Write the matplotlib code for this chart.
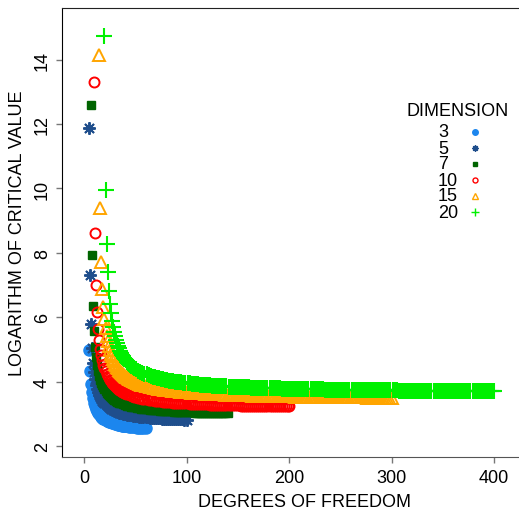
import matplotlib
matplotlib.use("Agg")
import matplotlib.pyplot as plt

plt.rcParams["font.family"] = ["Liberation Sans", "DejaVu Sans"]

# degrees of freedom and log critical values per dimension
df3 = list(range(5, 43)) + list(range(44, 61, 2))
crit3 = [4.99, 4.32, 3.92, 3.67, 3.48, 3.35, 3.24, 3.16, 3.09, 3.04,
         2.99, 2.95, 2.91, 2.88, 2.85, 2.83, 2.81, 2.79, 2.77, 2.76,
         2.74, 2.73, 2.72, 2.71, 2.70, 2.69, 2.68, 2.67, 2.66, 2.65,
         2.645, 2.64, 2.63, 2.63, 2.62, 2.62, 2.61, 2.61,
         2.60, 2.59, 2.585, 2.58, 2.57, 2.57, 2.56, 2.56, 2.55]

df5 = list(range(5, 35)) + list(range(36, 101, 2))
crit5 = [11.88, 7.31, 5.80, 5.04, 4.59, 4.29, 4.07, 3.91, 3.78, 3.68,
         3.59, 3.52, 3.46, 3.41, 3.36, 3.32, 3.29, 3.26, 3.23, 3.20,
         3.18, 3.16, 3.14, 3.12, 3.11, 3.09, 3.08, 3.07, 3.05, 3.04,
         3.02, 3.00, 2.985, 2.97, 2.96, 2.95, 2.94, 2.93, 2.92, 2.91,
         2.91, 2.90, 2.89, 2.89, 2.88, 2.88, 2.87, 2.87, 2.86, 2.86,
         2.85, 2.85, 2.85, 2.84, 2.84, 2.84, 2.835, 2.83, 2.83, 2.83,
         2.825, 2.82, 2.82]

df7 = list(range(7, 37)) + list(range(38, 141, 2))
crit7 = [12.58, 7.93, 6.36, 5.57, 5.08, 4.75, 4.51, 4.33, 4.18, 4.06,
         3.97, 3.89, 3.82, 3.76, 3.70, 3.66, 3.62, 3.58, 3.55, 3.52,
         3.49, 3.47, 3.44, 3.42, 3.40, 3.38, 3.37, 3.35, 3.34, 3.32,
         3.30, 3.275, 3.256, 3.24, 3.224, 3.21, 3.196, 3.185, 3.175, 3.163,
         3.154, 3.145, 3.137, 3.13, 3.123, 3.116, 3.111, 3.105, 3.10, 3.095,
         3.09, 3.086, 3.082, 3.077, 3.073, 3.07, 3.066, 3.062, 3.06, 3.056,
         3.054, 3.051, 3.049, 3.045, 3.042, 3.039, 3.037, 3.035, 3.033, 3.03,
         3.029, 3.027, 3.025, 3.023, 3.021, 3.02, 3.018, 3.016, 3.015, 3.013,
         3.012, 3.011]

df10 = list(range(10, 40)) + list(range(41, 200, 2)) + [200]
crit10 = [13.31, 8.61, 6.99, 6.16, 5.64, 5.28, 5.02, 4.82, 4.66, 4.52,
          4.41, 4.32, 4.24, 4.17, 4.11, 4.05, 4.01, 3.96, 3.92, 3.89,
          3.86, 3.83, 3.80, 3.775, 3.75, 3.73, 3.71, 3.69, 3.67, 3.66,
          3.626, 3.60, 3.576, 3.555, 3.535, 3.518, 3.50, 3.486, 3.4725, 3.46,
          3.448, 3.437, 3.427, 3.418, 3.409, 3.40, 3.393, 3.386, 3.379, 3.373,
          3.367, 3.361, 3.356, 3.35, 3.3455, 3.341, 3.336, 3.332, 3.328, 3.324,
          3.32, 3.3165, 3.313, 3.31, 3.306, 3.303, 3.30, 3.297, 3.294, 3.292,
          3.289, 3.287, 3.284, 3.282, 3.279, 3.277, 3.275, 3.273, 3.271, 3.269,
          3.267, 3.2655, 3.264, 3.262, 3.2605, 3.259, 3.257, 3.256, 3.254, 3.253,
          3.2515, 3.25, 3.249, 3.248, 3.246, 3.245, 3.244, 3.243, 3.2415, 3.24,
          3.239, 3.238, 3.237, 3.236, 3.235, 3.234, 3.233, 3.232, 3.231, 3.23,
          3.23]

df15 = list(range(15, 45)) + list(range(46, 301, 2))
crit15 = [14.14, 9.39, 7.73, 6.87, 6.32, 5.94, 5.65, 5.43, 5.25, 5.10,
          4.98, 4.87, 4.78, 4.70, 4.63, 4.56, 4.51, 4.46, 4.41, 4.37,
          4.33, 4.29, 4.26, 4.23, 4.20, 4.17, 4.15, 4.13, 4.11, 4.08,
          4.047, 4.014, 3.984, 3.957, 3.933, 3.910, 3.889, 3.871, 3.853, 3.837,
          3.822, 3.808, 3.795, 3.783, 3.772, 3.762, 3.751, 3.742, 3.733, 3.725,
          3.717, 3.709, 3.702, 3.695, 3.689, 3.682, 3.676, 3.671, 3.665, 3.660,
          3.655, 3.650, 3.646, 3.641, 3.637, 3.633, 3.629, 3.625, 3.622, 3.618,
          3.615, 3.611, 3.608, 3.605, 3.602, 3.600, 3.597, 3.594, 3.592, 3.589,
          3.587, 3.584, 3.582, 3.580, 3.578,
          3.576, 3.574, 3.572, 3.570, 3.568, 3.566, 3.564, 3.562, 3.561, 3.559,
          3.557, 3.556, 3.554, 3.553, 3.551, 3.550, 3.548, 3.547, 3.545, 3.544,
          3.543, 3.541, 3.540, 3.539, 3.538, 3.537, 3.535, 3.534, 3.533, 3.532,
          3.531, 3.530, 3.529, 3.528, 3.527, 3.526, 3.525, 3.524, 3.523, 3.522,
          3.521, 3.520, 3.520, 3.519, 3.518, 3.517, 3.516, 3.516, 3.515, 3.514,
          3.513, 3.513, 3.512, 3.511, 3.510, 3.510, 3.509, 3.508, 3.508, 3.507,
          3.506, 3.506, 3.505, 3.504, 3.504, 3.503, 3.503, 3.502, 3.501, 3.501,
          3.500, 3.500, 3.499]

df20 = list(range(20, 50)) + list(range(51, 400, 2)) + [400]
crit20 = [14.73, 9.95, 8.27, 7.39, 6.82, 6.42, 6.13, 5.89, 5.70, 5.54,
          5.41, 5.30, 5.19, 5.11, 5.03, 4.96, 4.90, 4.84, 4.79, 4.74,
          4.70, 4.66, 4.62, 4.59, 4.55, 4.52, 4.50, 4.47, 4.44, 4.42,
          4.380, 4.342, 4.307, 4.276, 4.247, 4.221, 4.198, 4.176, 4.155, 4.136,
          4.119, 4.102, 4.087, 4.073, 4.059, 4.047, 4.034, 4.023, 4.012, 4.002,
          3.992, 3.983, 3.974, 3.965, 3.957, 3.950, 3.942, 3.935, 3.929, 3.922,
          3.916, 3.910, 3.904, 3.899, 3.893,
          3.889, 3.884, 3.879, 3.875, 3.870,
          3.866, 3.862, 3.858, 3.855, 3.851,
          3.848, 3.845, 3.842, 3.839, 3.835, 3.832, 3.829, 3.826, 3.823, 3.820,
          3.818, 3.815, 3.813, 3.811, 3.808, 3.806, 3.804, 3.802, 3.799, 3.797,
          3.795, 3.793, 3.792, 3.790, 3.788, 3.786, 3.784, 3.782, 3.781, 3.779,
          3.777, 3.776, 3.774, 3.773, 3.771, 3.770, 3.768, 3.767, 3.765, 3.764,
          3.763, 3.762, 3.760, 3.759, 3.758, 3.757, 3.756, 3.754, 3.753, 3.752,
          3.751, 3.750, 3.749, 3.748, 3.747, 3.746, 3.745, 3.744, 3.743, 3.742,
          3.741, 3.740, 3.739, 3.738, 3.737, 3.737, 3.736, 3.735, 3.734, 3.733,
          3.732, 3.732, 3.731, 3.730, 3.729, 3.729, 3.728, 3.727, 3.727, 3.726,
          3.725, 3.724, 3.724, 3.723, 3.722, 3.722, 3.721, 3.720, 3.720, 3.719,
          3.718, 3.718, 3.717, 3.717, 3.716, 3.716, 3.715, 3.714, 3.714, 3.713,
          3.713, 3.712, 3.712, 3.711, 3.711, 3.710, 3.710, 3.709, 3.709, 3.708,
          3.708, 3.707, 3.707, 3.706, 3.706, 3.705, 3.705, 3.705, 3.704, 3.704,
          3.703, 3.703, 3.703, 3.702, 3.702, 3.701, 3.701, 3.701, 3.700, 3.700,
          3.700]

dimensions = ["3", "5", "7", "10", "15", "20"]
xticks = [0, 100, 200, 300, 400]
yticks = [2, 4, 6, 8, 10, 12, 14]

W, H = 519, 510
fig = plt.figure(figsize=(W / 100, H / 100), dpi=100)
# plot region runs past the right edge of the picture, like the original
ax = fig.add_axes([62 / W, 52 / H, 484 / W, 449 / H])

series = [
    (df3, crit3, dict(marker="o", ms=8.0, color="#1C86EE", mec="#1C86EE")),
    (df5, crit5, dict(marker=(8, 2, 0), ms=9.0, color="#1F4E8C", mew=1.4)),
    (df7, crit7, dict(marker="s", ms=6.4, color="#006400", mec="#006400")),
    (df10, crit10, dict(marker="o", ms=7.2, mfc="none", mec="#FF0000", mew=1.4)),
    (df15, crit15, dict(marker="^", ms=9.0, mfc="none", mec="#FFA500", mew=1.4)),
    (df20, crit20, dict(marker="+", ms=11, color="#00F000", mew=1.5)),
]
for x, y, style in series:
    ax.plot(x, y, linestyle="none", **style)

ax.set_xlim(-21.46, 450.7)
ax.set_ylim(1.658, 15.606)
ax.set_xticks(xticks)
ax.set_yticks(yticks)
ax.tick_params(axis="both", direction="out", length=4, width=1,
               color="#777777", labelsize=13, labelcolor="black")
ax.tick_params(axis="x", pad=5)
ax.tick_params(axis="y", pad=4)
for lab in ax.get_yticklabels():
    lab.set_rotation(90)
    lab.set_va("center")
ax.spines["left"].set_color("black")
ax.spines["top"].set_color("#222222")
ax.spines["bottom"].set_color("#555555")
ax.set_xlabel("DEGREES OF FREEDOM", fontsize=13, labelpad=5)
ax.set_ylabel("LOGARITHM OF CRITICAL VALUE", fontsize=13, labelpad=6)

# legend drawn by hand: title, labels left aligned, markers to the right
fig.text(457.5 / W, 1 - 112 / H, "DIMENSION", fontsize=13, ha="center", va="center")
rows = [133, 149, 165, 181, 197, 213]
for (x, y, style), name, yy in zip(series, dimensions, rows):
    fig.text(438 / W, 1 - yy / H, name, fontsize=13, ha="left", va="center")
    small = dict(style)
    small["ms"] = style["ms"] * 0.5
    small["mew"] = 1.0
    fig.add_artist(plt.Line2D([475 / W], [1 - yy / H], linestyle="none",
                              transform=fig.transFigure, **small))

fig.savefig("out.png", dpi=100)
